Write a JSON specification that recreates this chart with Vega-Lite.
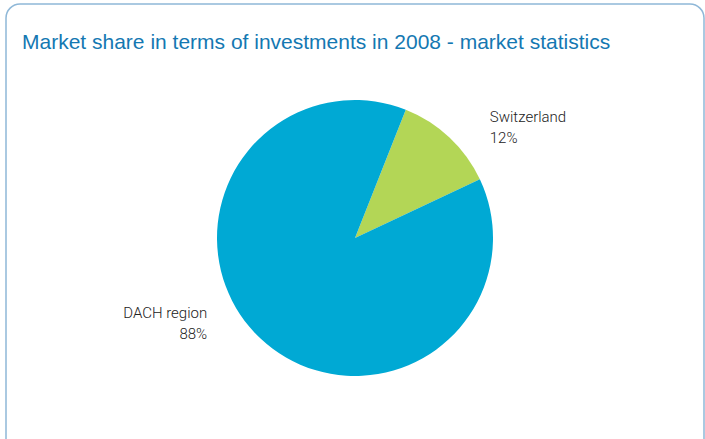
{
  "$schema": "https://vega.github.io/schema/vega-lite/v6.json",
  "width": 705,
  "height": 439,
  "autosize": {"type": "fit", "contains": "padding"},
  "padding": {"left": 6, "top": 4, "right": 1, "bottom": -33},
  "background": "white",
  "view": {"stroke": "#8fb8d8", "strokeWidth": 1.5, "cornerRadius": 14, "fill": "white"},
  "config": {
    "view": {"stroke": "#8fb8d8", "strokeWidth": 1.5, "cornerRadius": 14},
    "font": "Roboto"
  },
  "title": {
    "text": "Market share in terms of investments in 2008 - market statistics",
    "anchor": "start",
    "frame": "group",
    "orient": "top",
    "offset": -49,
    "dx": 16,
    "font": "Liberation Sans",
    "fontSize": 21,
    "fontWeight": "normal",
    "color": "#1478b2"
  },
  "data": {
    "values": [
      {"cat": "Switzerland", "share": 12, "label": ["Switzerland", "12%"]},
      {"cat": "DACH region", "share": 88, "label": ["DACH region", "88%"]}
    ]
  },
  "encoding": {
    "theta": {"field": "share", "type": "quantitative", "stack": true, "scale": {"range": [0.377, 6.660]}},
    "order": {"field": "cat", "sort": "descending"}
  },
  "layer": [
    {
      "mark": {"type": "arc", "outerRadius": 138},
      "encoding": {
        "color": {
          "field": "cat",
          "type": "nominal",
          "scale": {"domain": ["Switzerland", "DACH region"], "range": ["#b3d656", "#00a9d4"]},
          "legend": null
        }
      }
    },
    {
      "mark": {"type": "text", "radius": 175, "align": "left", "baseline": "middle", "dx": 15, "dy": 7, "fontSize": 15, "fontWeight": 300, "color": "#222222", "lineHeight": 21},
      "encoding": {
        "text": {"condition": {"test": "datum.cat === 'Switzerland'", "field": "label"}, "value": ""}
      }
    },
    {
      "mark": {"type": "text", "radius": 175, "align": "right", "baseline": "middle", "dx": -28, "dy": -53, "fontSize": 15, "fontWeight": 300, "color": "#222222", "lineHeight": 21},
      "encoding": {
        "text": {"condition": {"test": "datum.cat === 'DACH region'", "field": "label"}, "value": ""}
      }
    }
  ]
}
